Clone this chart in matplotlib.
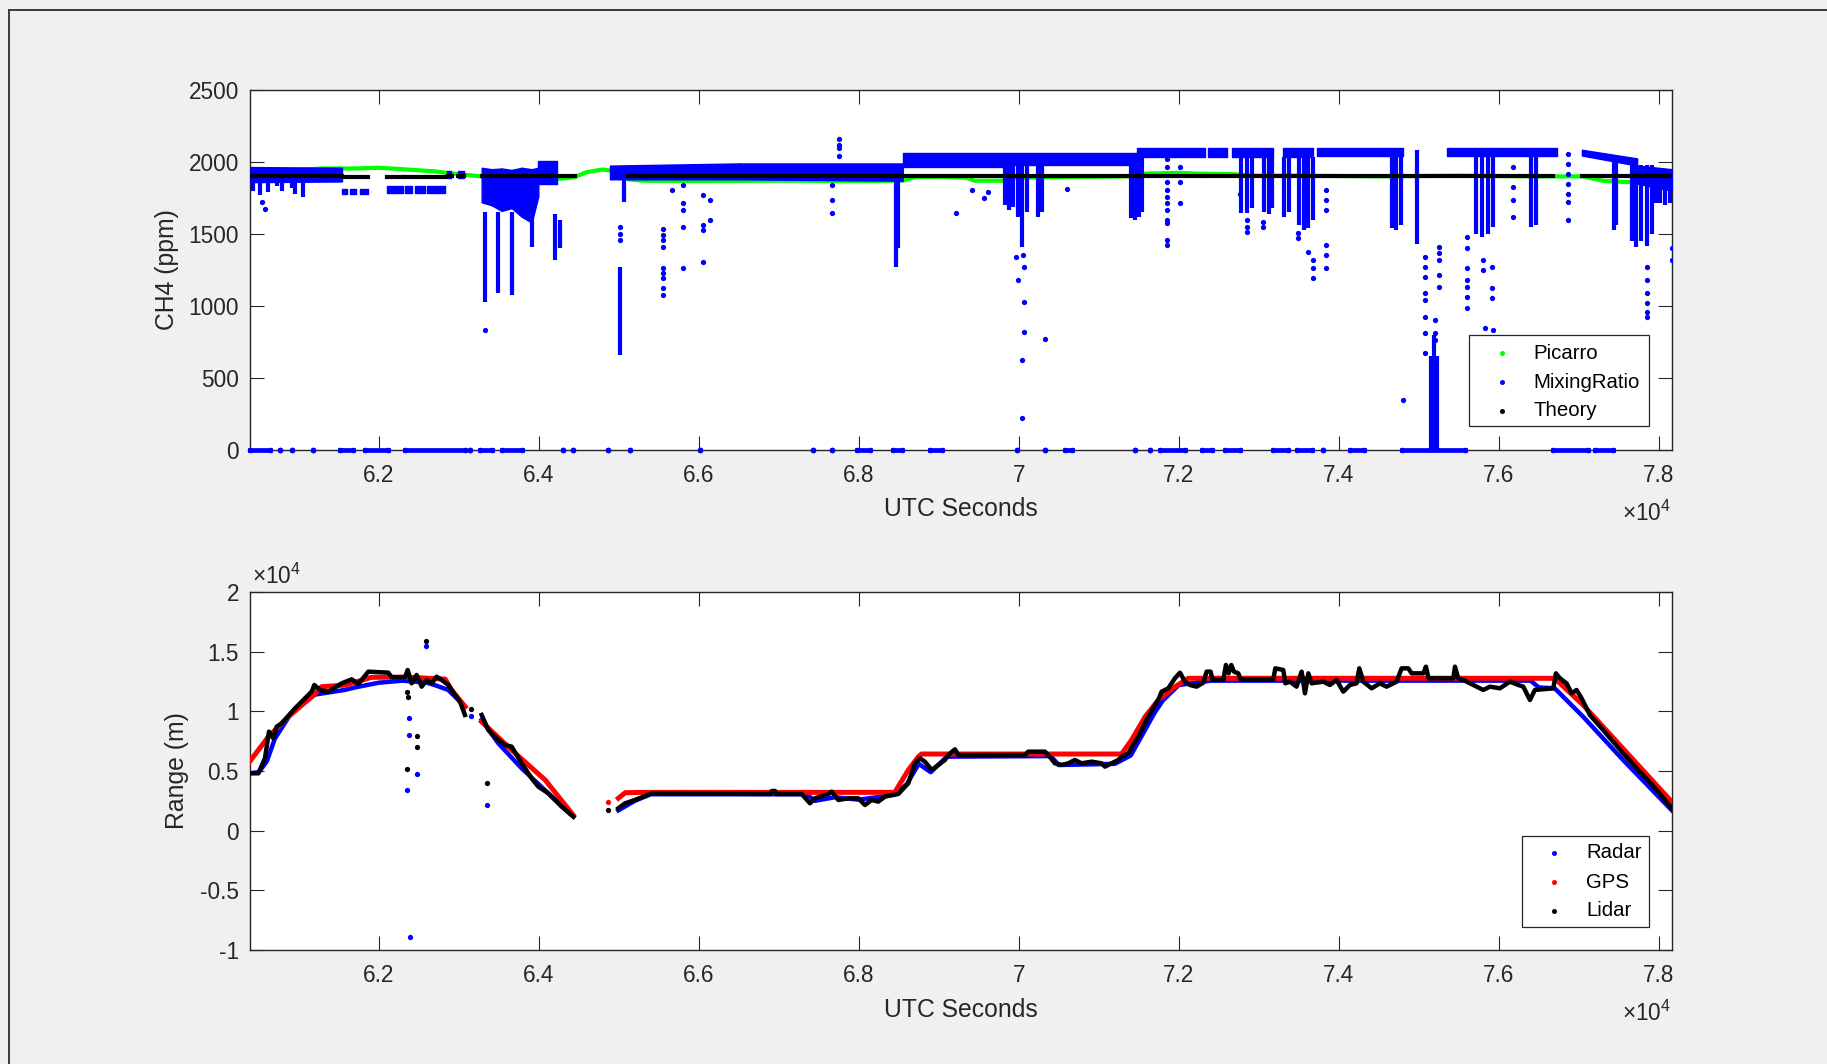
import numpy as np
import matplotlib
matplotlib.use('Agg')
import matplotlib.pyplot as plt
from matplotlib.patches import Rectangle
from matplotlib.lines import Line2D
from matplotlib.ticker import FuncFormatter, MultipleLocator

plt.rcParams['font.family'] = ['Liberation Sans', 'DejaVu Sans']
plt.rcParams['mathtext.fontset'] = 'custom'
plt.rcParams['mathtext.rm'] = 'Liberation Sans'
plt.rcParams['mathtext.it'] = 'Liberation Sans:italic'

nan = np.nan

# ---------------- Top panel data: CH4 (ppm) ----------------
picarro_x = [60395, 60600, 61000, 61300, 61700, 62000, 62300, 62700, 63000, 63290, 63400, 64000, 64300,
             64450, 64600, 64800, 64950, 65115, 65300, 66000, 67000, 68000, 68550, 68700, 69000, 69350,
             69450, 69800, 69900, 70500, 71400, 71600, 72000, 72200, 72700, 72900, 73500, 74500, 75500,
             76500, 77050, 77300, 77600, 77900, 78000, 78166]
picarro_y = [1900, 1920, 1945, 1955, 1955, 1960, 1950, 1935, 1915, 1900, 1885, 1880, 1885,
             1895, 1930, 1948, 1935, 1880, 1870, 1868, 1870, 1868, 1870, 1895, 1897, 1890,
             1870, 1870, 1890, 1895, 1900, 1920, 1925, 1920, 1915, 1905, 1905, 1900, 1905,
             1900, 1900, 1870, 1860, 1865, 1885, 1890]

theory_x0 = [60395, 61560, 61650, 61750, 62100, 62330, 62450, 62640, 62870, 62990, 63290, 65115, 72340, 77040]
theory_x1 = [61540, 61620, 61720, 61865, 62300, 62420, 62600, 62830, 62920, 63060, 64450, 72320, 76680, 78166]
theory_y = [1900, 1895, 1895, 1895, 1895, 1895, 1895, 1895, 1900, 1900, 1900, 1900, 1900, 1900]

# MixingRatio: dense bands (x0, x1, top0, top1, bottom0, bottom1)
band_x0 = [60395, 61540, 61640, 61760, 62100, 62330, 62450, 62600, 62850, 62990,
           63286, 63411, 63536, 63661, 63786, 63911,
           63994, 64890, 66500, 68550, 69800, 71475, 72370, 72665, 73300, 73730, 75350, 77040, 77730]
band_x1 = [61540, 61600, 61720, 61865, 62300, 62420, 62580, 62830, 62900, 63060,
           63411, 63536, 63661, 63786, 63911, 63994,
           64225, 66500, 68550, 69800, 71475, 72330, 72600, 73180, 73680, 74800, 76730, 77730, 78166]
band_top0 = [1965, 1815, 1815, 1815, 1830, 1830, 1830, 1830, 1935, 1935,
             1960, 1950, 1955, 1945, 1960, 1950,
             2010, 1975, 1990, 2065, 2060, 2100, 2100, 2100, 2100, 2100, 2100, 2085, 1975]
band_top1 = [1960, 1815, 1815, 1815, 1830, 1830, 1830, 1830, 1935, 1935,
             1950, 1955, 1945, 1960, 1950, 1960,
             2010, 1990, 1990, 2065, 2060, 2100, 2100, 2100, 2100, 2100, 2100, 2025, 1950]
band_bot0 = [1860, 1775, 1775, 1775, 1785, 1785, 1785, 1785, 1890, 1890,
             1720, 1700, 1660, 1680, 1620, 1580,
             1850, 1880, 1880, 1965, 1980, 2035, 2035, 2035, 2035, 2040, 2045, 2045, 1850]
band_bot1 = [1865, 1775, 1775, 1775, 1785, 1785, 1785, 1785, 1890, 1890,
             1700, 1660, 1680, 1620, 1580, 1760,
             1850, 1880, 1870, 1965, 1980, 2035, 2035, 2035, 2035, 2040, 2045, 1975, 1800]

# MixingRatio: dense vertical drop-outs (x, top, bottom)
col_x = [60431, 60514, 60618, 60723, 60786, 60911, 60953, 61057,
         63330, 63490, 63665, 63915, 64200, 64270,
         65060, 65020, 68465, 68495,
         69830, 69880, 69930, 69990, 70040, 70100, 70240, 70290,
         71400, 71450, 71500, 71545, 72780, 72850, 72910, 73070, 73130, 73170,
         73320, 73380, 73500, 73560, 73620, 73680, 74660, 74720, 74780, 74975,
         75150, 75190, 75230, 75720, 75790, 75860, 75930, 76400, 76460, 77440, 77470,
         77660, 77720, 77780, 77850, 77910, 77960, 78020, 78080, 78140]
col_top = [1870, 1870, 1870, 1870, 1870, 1870, 1870, 1870,
           1650, 1650, 1650, 1650, 1640, 1600,
           1880, 1272, 1870, 1870,
           2000, 2000, 2000, 2000, 2000, 2000, 2040, 2040,
           2040, 2040, 2040, 2040, 2035, 2035, 2035, 2035, 2035, 2035,
           2035, 2035, 2035, 2035, 2035, 2035, 2040, 2040, 2040, 2080,
           650, 800, 650, 2045, 2045, 2045, 2045, 2045, 2045, 2040, 2040,
           1980, 1980, 1980, 1980, 1980, 1950, 1950, 1950, 1950]
col_bot = [1800, 1770, 1790, 1830, 1800, 1820, 1780, 1760,
           1029, 1087, 1076, 1411, 1318, 1400,
           1723, 659, 1272, 1400,
           1700, 1666, 1690, 1620, 1411, 1650, 1620, 1650,
           1610, 1596, 1620, 1650, 1643, 1643, 1680, 1650, 1640, 1680,
           1620, 1650, 1560, 1527, 1540, 1600, 1540, 1527, 1560, 1434,
           0, 0, 0, 1500, 1480, 1500, 1550, 1550, 1560, 1527, 1560,
           1450, 1411, 1450, 1420, 1500, 1712, 1712, 1700, 1712]

# MixingRatio: isolated points
mr_dot_x = [60577, 60535, 63330, 65010, 65010, 65012,
            65556, 65556, 65556, 65556, 65556, 65556, 65556, 65556, 65556, 65660,
            65806, 65806, 65806, 65806, 65806, 66056, 66056, 66056, 66056, 66140, 66140,
            67660, 67660, 67660, 67755, 67755, 67755, 67755,
            69210, 69410, 69560, 69620,
            69965, 70055, 70070, 69995, 70070, 70070, 70045, 70045, 70330, 70600,
            71849, 71849, 71849, 71849, 71849, 71849, 71849, 71849, 71849, 71849, 71849,
            72015, 72015, 72015, 72849, 72849, 72849, 72765, 73056, 73056,
            73494, 73494, 73619, 73681, 73681, 73681,
            73840, 73840, 73840, 73840, 73840, 73840,
            74799, 75078, 75078, 75078, 75078, 75078, 75078, 75078, 75078,
            75203, 75203, 75203, 75256, 75256, 75256, 75256, 75256,
            75599, 75599, 75599, 75599, 75599, 75599, 75599,
            75806, 75806, 75911, 75911, 75911, 75827, 75931,
            76181, 76181, 76181, 76181,
            76869, 76869, 76869, 76869, 76869, 76869, 76869,
            77849, 77849, 77849, 77849, 77849, 77849, 78161, 78161]
mr_dot_y = [1677, 1720, 833, 1550, 1500, 1460,
            1538, 1492, 1457, 1411, 1261, 1226, 1192, 1122, 1076, 1804,
            1839, 1712, 1666, 1550, 1261, 1770, 1562, 1530, 1307, 1735, 1596,
            1840, 1735, 1643, 2163, 2117, 2094, 2040,
            1643, 1804, 1750, 1790,
            1342, 1353, 1272, 1180, 1029, 821, 625, 220, 768, 1811,
            2024, 1966, 1862, 1804, 1758, 1712, 1666, 1596, 1573, 1457, 1423,
            1966, 1862, 1712, 1596, 1550, 1515, 1781, 1550, 1580,
            1504, 1469, 1376, 1318, 1261, 1192,
            1804, 1735, 1666, 1423, 1353, 1261,
            347, 1342, 1272, 1203, 1087, 1041, 925, 810, 671,
            902, 810, 763, 1411, 1365, 1318, 1214, 1133,
            1480, 1400, 1261, 1180, 1133, 1064, 983,
            1318, 1249, 1272, 1122, 1053, 844, 833,
            1966, 1827, 1735, 1620,
            2059, 1989, 1920, 1850, 1781, 1723, 1596,
            1272, 1180, 1087, 1018, 958, 925, 1400, 1318]

# MixingRatio: runs of zero readings (x0, x1)
zero_x0 = [60395, 60765, 60910, 61180, 61515, 61830, 62330, 63140, 63265, 63540, 64306, 64431, 64869,
           65140, 66015, 67430, 67665, 67980, 68430, 68890, 69980, 70330, 70580, 71450, 71640, 71765,
           72290, 72580, 73180, 73475, 73800, 74140, 74790, 76680, 77200]
zero_x1 = [60640, 60765, 60910, 61180, 61680, 62115, 63080, 63140, 63415, 63790, 64306, 64431, 64869,
           65140, 66015, 67430, 67665, 68140, 68540, 69040, 69980, 70330, 70670, 71450, 71640, 72080,
           72415, 72770, 73365, 73665, 73800, 74320, 75580, 77120, 77430]

# ---------------- Bottom panel data: Range (m) ----------------
gps_x = [60370, 60620, 60870, 61160, 61285, 61580, 61910, 62330, 62830, 62910, 63080, nan,
         63285, 63660, 64080, 64430, nan, 64995, 65080, 65300, 68450, 68620, 68745, 68785,
         71285, 71410, 71580, 71745, 71955, 72120, 76700, 77055, 78180]
gps_y = [5645, 7875, 9550, 11226, 12064, 12200, 12850, 12870, 12700, 11790, 10390, nan,
         9130, 6760, 4245, 1310, nan, 2715, 3180, 3210, 3210, 5084, 6200, 6424,
         6424, 7600, 9550, 10950, 12064, 12770, 12770, 10530, 2290]
gps_dot_x = [64870]
gps_dot_y = [2380]

radar_x = [60370, 60500, 60600, 60700, 60900, 61200, 61580, 61700, 62000, 62300, 62600, 62700, 62869,
           63077, nan, 63286, 63494, 63786, 64119, 64432, nan, 64994, 65200, 65400,
           67350, 67450, 67700, 68000, 68450, 68600, 68750, 68900, 69100, 70400, 70500, 71200,
           71400, 71700, 71800, 72000, 72400, 76400, 76500, 76700, 77055, 77555, 78180]
radar_y = [4800, 4900, 5800, 7700, 9800, 11400, 11800, 12000, 12400, 12570, 12400, 12200, 11788,
           10390, nan, 9275, 7320, 5225, 3131, 1175, nan, 1700, 2500, 3050,
           3050, 2500, 2800, 2600, 3000, 3900, 5600, 4900, 6200, 6250, 5500, 5600,
           6300, 9900, 10900, 12200, 12570, 12570, 12000, 11930, 9550, 5920, 1590]
radar_out_x = [62585, 62380, 62380, 62350, 62480, 63350, 62390, 63150]
radar_out_y = [15500, 9410, 7990, 3410, 4720, 2150, -8940, 9610]

lidar_x = [60369, 60494, 60577, 60627, 60682, 60723, 60786, 60953, 61161, 61194, 61265, 61369, 61536,
           61661, 61744, 61869, 62119, 62161, 62327, 62361, 62411, 62473, 62536, 62598, 62661, 62723,
           62786, 62869, 62953, 63015, 63077, nan,
           63286, 63369, 63494, 63578, 63661, 63786, 63911, 63994, 64119, 64286, 64432, nan,
           64994, 65078, 65202, 65411, 66900, 66911, 66953, 66965, 67286, 67390, 67452, 67619, 67661,
           67744, 67869, 67994, 68077, 68161, 68244, 68327, 68411, 68494, 68619, 68702, 68765, 68827,
           68911, 68994, 69077, 69119, 69202, 69244, 70077, 70119, 70200, 70327, 70369, 70452, 70536,
           70619, 70702, 70786, 70911, 71036, 71077, 71161, 71244, 71286, 71369, 71494, 71619, 71744,
           71786, 71869, 71952, 72015, 72077,
           72140, 72223, 72307, 72348, 72398, 72423, 72557, 72590, 72623, 72657, 72690, 72744, 72773,
           73182, 73207, 73307, 73332, 73390, 73473, 73536, 73578, 73620, 73661, 73807, 73890, 73973,
           74057, 74140, 74223, 74257, 74307, 74411, 74515, 74598, 74723, 74786, 74869, 74911, 75057,
           75090, 75123, 75432, 75453, 75494, 75557, 75682, 75807, 75890, 76015, 76140, 76244, 76307,
           76390, 76452, 76682, 76715, 76765, 76848, 76911, 76973, 77036, 77140, 77305, 77555, 77765,
           77975, 78180]
lidar_y = [4806, 4806, 6063, 8297, 7739, 8716, 8996, 10253, 11649, 12208, 11788, 11649, 12347,
           12683, 12292, 13325, 13241, 12850, 12850, 13465, 12347, 13045, 12068, 12627, 12347, 12906,
           12627, 12208, 11370, 10811, 9694, nan,
           9694, 8437, 7599, 7180, 7040, 5644, 4387, 3689, 3131, 2014, 1175, nan,
           1874, 2292, 2572, 3131, 3074, 3326, 3326, 3074, 3074, 2292, 2711, 3074, 3270,
           2572, 2711, 2711, 2153, 2572, 2432, 2850, 2990, 3074, 3968, 5644, 6063, 5784,
           5086, 5505, 5924, 6342, 6817, 6342, 6342, 6621, 6621, 6621, 6342, 5644, 5505,
           5644, 5924, 5644, 5784, 5644, 5365, 5644, 5924, 6203, 6482, 7878, 9554, 10951,
           11649, 11928, 12766, 13241, 12487,
           12208, 12068, 12400, 13325, 13325, 12627, 12627, 13883, 13185, 13883, 13325, 13185, 12683,
           12683, 13604, 13465, 12347, 12487, 12068, 13325, 11509, 13185, 12347, 12487, 12208, 12627,
           11649, 12208, 12347, 13604, 12487, 11928, 12347, 12068, 12487, 13604, 13604, 13185, 13185,
           13744, 12766, 12766, 13744, 12766, 12627, 12208, 11788, 12068, 11928, 12487, 12208, 12068,
           10951, 11788, 11928, 13185, 12766, 12347, 11509, 11788, 11090, 9690, 8435, 6480, 4940,
           3410, 1730]
lidar_out_x = [62350, 62370, 62350, 62475, 62475, 63350, 62585, 63150, 64870]
lidar_out_y = [11650, 11230, 5170, 7960, 7040, 4020, 15920, 10200, 1730]

# axis ticks / labels
x_limits = [60390, 78166]
x_tick_step = 2000
top_ylim = [0, 2500]
top_ytick_step = 500
bot_ylim = [-10000, 20000]
bot_ytick_step = 5000

# ---------------- Figure ----------------
W, H = 1827, 1064
fig = plt.figure(figsize=(W / 100, H / 100), dpi=100, facecolor='#f0f0f0')


def fx(px):
    return px / W


def fy(py):
    return 1 - py / H


AXC = '#262626'
GREEN, BLUE, RED, BLACK = '#00ff00', '#0000ff', '#ff0000', '#000000'

ax1 = fig.add_axes([fx(250), fy(450), (1672 - 250) / W, (450 - 90) / H])
ax2 = fig.add_axes([fx(250), fy(950), (1672 - 250) / W, (950 - 592) / H])

# --- top panel ---
ax1.plot(picarro_x, picarro_y, color=GREEN, lw=3.0, solid_capstyle='round', zorder=2)
for x0, x1, t0, t1, b0, b1 in zip(band_x0, band_x1, band_top0, band_top1, band_bot0, band_bot1):
    ax1.fill_between([x0, x1], [b0, b1], [t0, t1], facecolor=BLUE, edgecolor=BLUE, lw=1.0, zorder=3)
ax1.vlines(col_x, col_bot, col_top, color=BLUE, lw=3.0, zorder=3)
ax1.plot(mr_dot_x, mr_dot_y, 'o', color=BLUE, ms=3.8, mew=0, zorder=3)
for x0, x1 in zip(zero_x0, zero_x1):
    ax1.plot([x0, x1], [0, 0], '-o', color=BLUE, lw=3.4, ms=4.0, mew=0, clip_on=False, zorder=3)
for x0, x1, yv in zip(theory_x0, theory_x1, theory_y):
    ax1.plot([x0, x1], [yv, yv], color=BLACK, lw=3.0, zorder=4)

ax1.set_ylim(*top_ylim)
ax1.yaxis.set_major_locator(MultipleLocator(top_ytick_step))
ax1.yaxis.set_major_formatter(FuncFormatter(lambda v, p: f"{v:g}"))

# --- bottom panel ---
ax2.plot(radar_x, radar_y, color=BLUE, lw=3.2, zorder=2)
ax2.plot(radar_out_x, radar_out_y, 'o', color=BLUE, ms=3.8, mew=0, zorder=2)
ax2.plot(gps_x, gps_y, color=RED, lw=3.6, zorder=3)
ax2.plot(gps_dot_x, gps_dot_y, 'o', color=RED, ms=3.8, mew=0, zorder=3)
ax2.plot(lidar_x, lidar_y, color=BLACK, lw=3.2, zorder=4)
ax2.plot(lidar_out_x, lidar_out_y, 'o', color=BLACK, ms=3.8, mew=0, zorder=4)

ax2.set_ylim(*bot_ylim)
ax2.yaxis.set_major_locator(MultipleLocator(bot_ytick_step))
ax2.yaxis.set_major_formatter(FuncFormatter(lambda v, p: f"{v / 1e4:g}"))

for ax in (ax1, ax2):
    ax.set_facecolor('white')
    ax.set_xlim(*x_limits)
    ax.xaxis.set_major_locator(MultipleLocator(x_tick_step))
    ax.xaxis.set_major_formatter(FuncFormatter(lambda v, p: f"{v / 1e4:g}"))
    ax.tick_params(direction='in', length=10, width=0.8, color=AXC, labelcolor=AXC,
                   labelsize=16.3, top=True, right=True)
    ax.tick_params(axis='x', pad=10)
    ax.tick_params(axis='y', pad=8)
    for s in ax.spines.values():
        s.set_color(AXC)
        s.set_linewidth(1.0)
    ax.set_xlabel('UTC Seconds', fontsize=17.8, color=AXC, va='center')

ax1.set_ylabel('CH4 (ppm)', fontsize=17.8, color=AXC, va='center')
ax2.set_ylabel('Range (m)', fontsize=17.8, color=AXC, va='center')
ax1.yaxis.set_label_coords((167 - 250) / 1422, 0.5)
ax2.yaxis.set_label_coords((177 - 250) / 1422, 0.5)
ax1.xaxis.set_label_coords(0.5, (450 - 509) / 360)
ax2.xaxis.set_label_coords(0.5, (950 - 1010) / 358)

# exponent labels
fig.text(fx(1671), fy(513), r'$\times10^{4}$', ha='right', va='center', fontsize=16.3, color=AXC)
fig.text(fx(1671), fy(1013), r'$\times10^{4}$', ha='right', va='center', fontsize=16.3, color=AXC)
fig.text(fx(252), fy(576), r'$\times10^{4}$', ha='left', va='center', fontsize=16.3, color=AXC)


# legends
def draw_legend(left, top, right, bottom, mark_x, text_x, rows, labels, colors):
    fig.add_artist(Rectangle((fx(left), fy(bottom)), fx(right - left), (bottom - top) / H,
                             facecolor='white', edgecolor=AXC, lw=0.9, zorder=5))
    for ry, lab, c in zip(rows, labels, colors):
        fig.add_artist(Line2D([fx(mark_x)], [fy(ry)], marker='o', ms=3.6, mew=0, color=c,
                              linestyle='none', zorder=6))
        fig.text(fx(text_x), fy(ry), lab, ha='left', va='center', fontsize=14.7, color='#000000',
                 zorder=6)


draw_legend(1469, 335, 1649, 426, 1502, 1533, [353, 382, 411],
            ['Picarro', 'MixingRatio', 'Theory'], [GREEN, BLUE, BLACK])
draw_legend(1522, 836, 1649, 927, 1554, 1586, [853, 882, 911],
            ['Radar', 'GPS', 'Lidar'], [BLUE, RED, BLACK])

# window border
fig.add_artist(Line2D([fx(9), fx(9)], [fy(10), 0], color='#3a3a3a', lw=1.4))
fig.add_artist(Line2D([fx(9), 1], [fy(10), fy(10)], color='#3a3a3a', lw=1.4))

fig.savefig('out.png', dpi=100, facecolor=fig.get_facecolor())
